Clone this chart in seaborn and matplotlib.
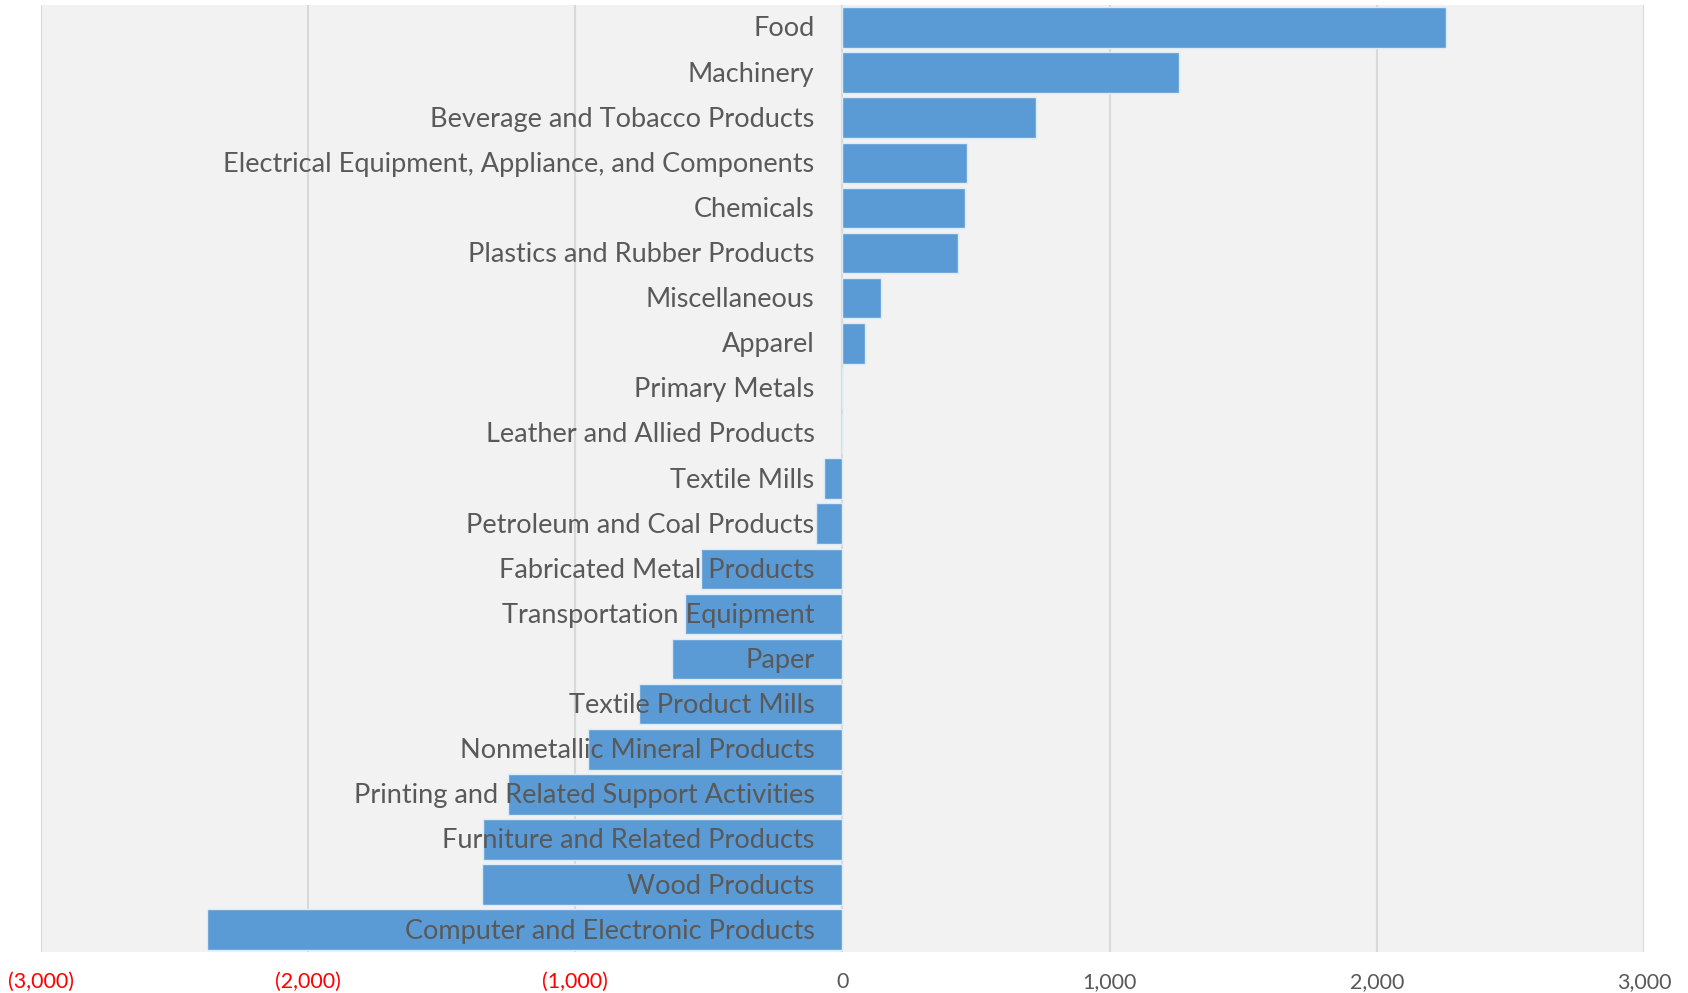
import numpy as np
import matplotlib
matplotlib.use("Agg")
import matplotlib.pyplot as plt
import seaborn as sns
import pandas as pd

# industry categories and net change values
industries = ["Food", "Machinery", "Beverage and Tobacco Products",
              "Electrical Equipment, Appliance, and Components", "Chemicals",
              "Plastics and Rubber Products", "Miscellaneous", "Apparel",
              "Primary Metals", "Leather and Allied Products", "Textile Mills",
              "Petroleum and Coal Products", "Fabricated Metal Products",
              "Transportation Equipment", "Paper", "Textile Product Mills",
              "Nonmetallic Mineral Products", "Printing and Related Support Activities",
              "Furniture and Related Products", "Wood Products",
              "Computer and Electronic Products"]
values = [2260, 1260, 725, 467, 459, 431, 145, 85, 0, 0, -68, -97,
          -528, -588, -636, -761, -950, -1252, -1345, -1349, -2376]
xticks = [-3000, -2000, -1000, 0, 1000, 2000, 3000]

df = pd.DataFrame({"industry": industries, "value": values})

sns.set_theme(style="white")
plt.rcParams['font.family'] = ['Lato', 'DejaVu Sans']

fig = plt.figure(figsize=(16.88, 9.93), dpi=100)
ax = fig.add_axes([0.024, 0.041, 0.95, 0.954])
ax.set_facecolor("#F2F2F2")

sns.barplot(data=df, x="value", y="industry", orient="h", color="#5B9BD5",
            saturation=1, width=0.9, edgecolor="#DDEBF7", linewidth=1, ax=ax, zorder=2)

ax.set_xlim(-3000, 3000)
ax.set_ylim(len(industries) - 0.5, -0.5)
ax.set_xticks(xticks)
for x in xticks:
    ax.axvline(x, color="#D9D9D9", lw=1.5, zorder=1)

def fmt(v):
    return "({:,})".format(-v) if v < 0 else "{:,}".format(v)

ax.set_xticklabels([fmt(v) for v in xticks], fontsize=15.5)
for lab, v in zip(ax.get_xticklabels(), xticks):
    lab.set_color("#FF0000" if v < 0 else "#595959")
ax.tick_params(axis="x", length=0, pad=14)

# category labels sit next to the zero line, on top of the bars
ax.set_yticks([])
for i, name in enumerate(industries):
    ax.annotate(name, xy=(0, i), xytext=(-20, -1), textcoords="offset points",
                ha="right", va="center", fontsize=19.5, color="#595959", zorder=5)

ax.set_xlabel("")
ax.set_ylabel("")
for s in ax.spines.values():
    s.set_visible(False)

fig.savefig("out.png", dpi=100)
